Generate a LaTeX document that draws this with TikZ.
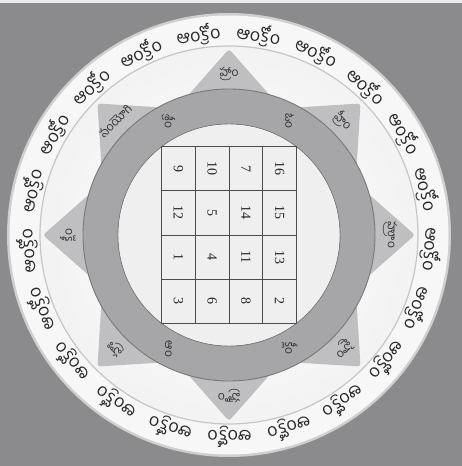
\documentclass[tikz,border=0pt]{standalone}
\usepackage{fontspec}
\usetikzlibrary{calc}
\newfontfamily\tel[Script=Telugu]{Hind Guntur}
\newfontfamily\numfont{Liberation Serif}
\definecolor{bg}{HTML}{8B8B8D}
\definecolor{band}{HTML}{F7F7F7}
\definecolor{ringgray}{HTML}{A6A6A8}
\definecolor{ringedge}{HTML}{78787A}
\definecolor{disc}{HTML}{EFEFEF}
\definecolor{trimid}{HTML}{868688}
\definecolor{triside}{HTML}{BFBFC1}
\pgfdeclareradialshading{zone}{\pgfpoint{0bp}{0bp}}{color(0bp)=(white); color(38bp)=(white!85!gray); color(43bp)=(white!97!gray); color(47bp)=(white!92!gray); color(50bp)=(white!72!gray)}
\tikzset{
  ringword/.style={font=\tel\fontsize{17.5}{18}\selectfont, inner sep=0pt, text=black!85},
  bija/.style={font=\tel\fontsize{12}{12}\selectfont, inner sep=0pt, text=black!80},
  ringlabel/.style={font=\tel\fontsize{12}{12}\selectfont, inner sep=0pt, text=black!80, rotate=-90},
  numcell/.style={font=\numfont\fontsize{14}{14}\selectfont, inner sep=0pt, text=black!85, rotate=-90},
  gridline/.style={draw=black!70, line width=0.8pt},
  tri/.style={rounded corners=3pt}
}
\begin{document}
\begin{tikzpicture}[x=1pt,y=1pt]
\useasboundingbox (-229,-231) rectangle (233,235);
\fill[bg] (-229,-231) rectangle (233,235);
\fill[white!85!gray] (-229,231.5) rectangle (233,235);
% outer band
\fill[white!62!gray] (0,0) circle (222);
\fill[band] (0,0) circle (219.5);
\shade[shading=zone] (0,0) circle (189);
\draw[white!55!gray, line width=1.2pt] (0,0) circle (189);
% star points
\foreach \a in {0,45,...,315}{
  \shade[tri, left color=triside, middle color=trimid, right color=triside, shading angle=\a+90]
    (\a:186) -- ($(\a:118)+(\a+90:60)$) -- ($(\a:118)+(\a-90:60)$) -- cycle;
}
% gray ring
\fill[ringgray, even odd rule] (0,0) circle (146) (0,0) circle (111);
\draw[ringedge, line width=0.9pt] (0,0) circle (146);
\draw[ringedge, line width=0.9pt] (0,0) circle (111);
\fill[disc] (0,0) circle (110.5);
% ring words
\foreach \k in {0,...,20}{
  \pgfmathsetmacro\ang{13+\k*360/21}
  \node[ringword, rotate=\ang-90] (w\k) at (\ang:202) {ఆంక్రోం};
}
% bija labels on star points
\foreach \a/\t [count=\i] in {90/హ్రాం, 45/హ్రీం, 0/హ్రూం, -45/హ్రైం, -90/హ్రౌం, -135/హ్రః, 180/క్లీం, 135/సంయోగి}{
  \node[bija, rotate=\a-90] (b\i) at (\a:161) {\t};
}
% labels on gray ring
\foreach \a/\t [count=\i] in {118/శ్రీం, 62/ఓం, 242/ఆం, 298/క్లీం}{
  \node[ringlabel] (r\i) at (\a:129) {\t};
}
% grid
\foreach \i in {0,...,4}{
  \draw[gridline] (-67.5+33.75*\i,-88.5) -- (-67.5+33.75*\i,88.5);
  \draw[gridline] (-67.5,-88.5+44.25*\i) -- (67.5,-88.5+44.25*\i);
}
\foreach \row/\vals in {0/{9,10,7,16}, 1/{12,5,14,15}, 2/{1,4,11,13}, 3/{3,6,8,2}}{
  \foreach \v [count=\c from 0] in \vals{
    \node[numcell] (n\row\c) at (-67.5+33.75*\c+16.875, 88.5-44.25*\row-22.125) {\v};
  }
}
\end{tikzpicture}
\end{document}
